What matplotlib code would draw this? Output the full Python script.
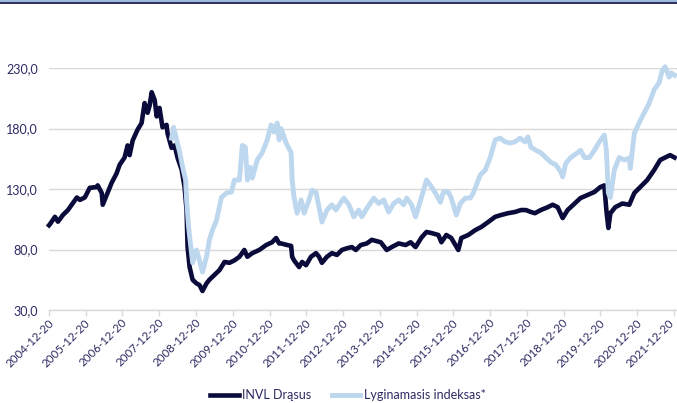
import pandas as pd
import matplotlib
matplotlib.use("Agg")
import matplotlib.pyplot as plt
from matplotlib.lines import Line2D
from matplotlib.transforms import ScaledTranslation

SERIES_NAMES = ["INVL Drąsus", "Lyginamasis indeksas*"]

DRASUS_DATES = [
    "2004-12-20", "2004-12-30", "2005-02-17", "2005-03-19", "2005-05-07", "2005-06-26",
    "2005-09-23", "2005-10-23", "2005-12-11", "2006-01-29", "2006-04-08", "2006-04-18",
    "2006-05-28", "2006-06-07", "2006-07-16", "2006-09-03", "2006-10-23", "2006-11-22",
    "2007-01-10", "2007-02-09", "2007-03-01", "2007-03-31", "2007-05-19", "2007-06-28",
    "2007-07-28", "2007-08-27", "2007-09-16", "2007-10-06", "2007-11-05", "2007-11-25",
    "2007-12-23", "2008-01-22", "2008-03-02", "2008-03-12", "2008-04-21", "2008-05-21",
    "2008-06-20", "2008-07-30", "2008-08-28", "2008-09-17", "2008-09-27", "2008-10-17",
    "2008-11-16", "2008-12-24", "2009-01-23", "2009-02-22", "2009-04-03", "2009-05-02",
    "2009-06-21", "2009-08-10", "2009-09-29", "2009-11-17", "2010-01-05", "2010-02-24",
    "2010-04-14", "2010-05-14", "2010-07-02", "2010-09-09", "2010-11-17", "2011-01-15",
    "2011-02-24", "2011-03-26", "2011-04-14", "2011-06-13", "2011-07-23", "2011-08-02",
    "2011-08-21", "2011-10-10", "2011-11-09", "2011-12-18", "2012-02-05", "2012-03-26",
    "2012-04-25", "2012-05-24", "2012-07-13", "2012-08-31", "2012-10-20", "2012-12-08",
    "2013-01-26", "2013-03-17", "2013-04-26", "2013-06-14", "2013-08-13", "2013-10-01",
    "2013-12-29", "2014-02-27", "2014-04-17", "2014-06-26", "2014-09-03", "2014-10-22",
    "2014-12-10", "2015-02-08", "2015-03-29", "2015-05-17", "2015-07-25", "2015-08-24",
    "2015-10-12", "2015-11-30", "2016-02-08", "2016-03-09", "2016-05-17", "2016-07-25",
    "2016-09-23", "2016-12-01", "2017-02-08", "2017-04-08", "2017-06-16", "2017-08-24",
    "2017-10-23", "2017-12-11", "2018-01-29", "2018-03-10", "2018-05-08", "2018-07-16",
    "2018-09-03", "2018-10-22", "2018-12-11", "2019-01-29", "2019-04-08", "2019-06-06",
    "2019-08-14", "2019-10-22", "2019-12-20", "2020-01-29", "2020-02-18", "2020-03-09",
    "2020-03-29", "2020-05-17", "2020-07-26", "2020-10-03", "2020-11-22", "2021-01-20",
    "2021-03-30", "2021-06-07", "2021-08-06", "2021-09-24", "2021-11-12", "2021-12-27",
]
DRASUS_VALUES = [
    100, 101, 107, 103, 108.5, 112.6,
    123, 121, 123, 131, 131.6, 133,
    126.7, 117, 125, 135, 143, 150,
    156, 166, 158, 170, 179, 184.5,
    201, 193, 199, 210, 203.5, 190,
    197, 181, 183, 176, 164, 166,
    155.6, 146, 131.6, 112.6, 82, 65.5,
    55, 52, 50.7, 45.7, 52, 55,
    59, 63, 69.7, 69, 71, 74,
    79.6, 74, 77, 79.6, 83.7, 86,
    89.5, 85, 85, 83.7, 83, 74,
    71, 65.5, 69.7, 67, 74, 77,
    74, 69, 74, 77, 75.5, 79.6,
    81, 82, 79.6, 83.7, 85, 88,
    86, 79.6, 82, 85, 83.7, 86,
    82, 90, 94.5, 93.6, 92, 86,
    92, 89.5, 79.6, 89.5, 92, 96,
    98.6, 102.7, 107, 108.5, 110, 111,
    112.6, 112.6, 111, 110, 112.6, 115,
    117, 115, 106, 112.6, 118, 122.5,
    125, 127.5, 131.6, 133, 112.6, 97.8,
    110, 115, 118, 117, 126.7, 131.6,
    137.4, 145.7, 154, 156, 158, 156,
]

INDEX_DATES = [
    "2008-04-21", "2008-05-11", "2008-06-10", "2008-07-10", "2008-08-09", "2008-09-07",
    "2008-09-17", "2008-10-07", "2008-11-06", "2008-11-16", "2008-12-24", "2009-01-23",
    "2009-02-22", "2009-04-03", "2009-05-02", "2009-06-01", "2009-07-11", "2009-08-29",
    "2009-10-18", "2009-12-06", "2010-01-05", "2010-02-24", "2010-03-25", "2010-04-24",
    "2010-05-14", "2010-06-13", "2010-07-02", "2010-08-20", "2010-10-08", "2010-11-27",
    "2011-01-05", "2011-02-04", "2011-03-06", "2011-03-26", "2011-04-14", "2011-06-03",
    "2011-07-23", "2011-08-02", "2011-08-21", "2011-09-20", "2011-10-30", "2011-11-29",
    "2012-01-17", "2012-02-16", "2012-03-26", "2012-04-25", "2012-05-24", "2012-07-13",
    "2012-08-31", "2012-10-10", "2012-11-28", "2012-12-28", "2013-02-16", "2013-04-06",
    "2013-05-25", "2013-06-24", "2013-08-13", "2013-10-21", "2013-12-09", "2014-01-28",
    "2014-03-18", "2014-05-07", "2014-06-26", "2014-08-14", "2014-09-13", "2014-11-01",
    "2014-12-10", "2015-01-09", "2015-02-28", "2015-03-29", "2015-05-07", "2015-06-26",
    "2015-08-14", "2015-09-13", "2015-11-01", "2015-11-30", "2016-01-19", "2016-02-28",
    "2016-04-18", "2016-06-06", "2016-07-06", "2016-09-13", "2016-11-02", "2016-12-21",
    "2017-02-08", "2017-03-29", "2017-05-18", "2017-07-06", "2017-08-24", "2017-10-13",
    "2017-12-01", "2017-12-31", "2018-01-29", "2018-03-20", "2018-05-08", "2018-06-27",
    "2018-08-16", "2018-10-04", "2018-11-23", "2018-12-11", "2019-01-10", "2019-02-28",
    "2019-05-08", "2019-06-06", "2019-07-16", "2019-09-03", "2019-10-22", "2019-12-10",
    "2020-01-29", "2020-02-18", "2020-03-09", "2020-03-29", "2020-05-07", "2020-06-25",
    "2020-08-14", "2020-10-03", "2020-10-13", "2020-11-22", "2021-01-10", "2021-02-28",
    "2021-04-19", "2021-06-07", "2021-07-27", "2021-08-26", "2021-09-24", "2021-11-03",
    "2021-11-22", "2021-12-27",
]
INDEX_VALUES = [
    172, 181, 170.5, 160.6, 148, 137.4,
    121, 98.6, 77, 69, 79.6, 71,
    61.4, 74, 88, 96, 104, 123,
    126.7, 127.5, 137.4, 137.4, 166, 164.7,
    137.4, 148, 139, 154, 160, 170.5,
    183, 177, 184.5, 170.5, 180, 168,
    160, 137.4, 123, 110, 121, 110,
    121, 129, 127.5, 115, 102.7, 112.6,
    117, 112.6, 119, 122.5, 117, 107,
    112.6, 107, 114, 122.5, 118, 121,
    111, 118, 121, 117, 122.5, 117,
    107, 115, 129, 137.4, 133, 126.7,
    119, 127.5, 127.5, 122.5, 108.5, 118,
    122.5, 122.5, 126.7, 141.6, 145.7, 156,
    170.5, 172, 169, 168, 169, 172,
    169, 173, 164.7, 162, 160, 156,
    152, 150, 144, 140, 151, 156,
    160, 162, 156, 156, 162, 169,
    174.6, 162, 126.7, 123, 145.7, 156,
    154, 155.6, 147, 176, 185, 193,
    201, 212, 218, 228, 231, 222.5,
    226, 224,
]

X_TICKS = [f"{year}-12-20" for year in range(2004, 2022)]
Y_TICKS = [30, 80, 130, 180, 230]
Y_TICK_LABELS = ["30,0", "80,0", "130,0", "180,0", "230,0"]

DARK = "#0b0b3b"
LIGHT = "#bdd7ee"
TEXT = "#2b2b63"
GRID = "#d9d9d9"


def plot():
    plt.rcParams["font.family"] = ["Lato", "DejaVu Sans"]
    fig = plt.figure(figsize=(6.77, 4.03), dpi=100)
    ax = fig.add_axes([49 / 677, 1 - 310 / 403, 1 - 49 / 677, (310 - 68) / 403])

    ax.plot(pd.to_datetime(DRASUS_DATES), DRASUS_VALUES, color=DARK, lw=3.3,
            solid_joinstyle="round", label=SERIES_NAMES[0], clip_on=False, zorder=3)
    ax.plot(pd.to_datetime(INDEX_DATES), INDEX_VALUES, color=LIGHT, lw=3.5,
            solid_joinstyle="round", label=SERIES_NAMES[1], clip_on=False, zorder=4)

    ax.set_ylim(30, 230)
    ax.set_xlim(pd.Timestamp("2004-12-20"), pd.Timestamp("2022-01-20"))
    ax.set_yticks(Y_TICKS)
    ax.set_yticklabels(Y_TICK_LABELS)
    tick_dates = pd.to_datetime(X_TICKS)
    ax.set_xticks(tick_dates)
    ax.set_xticklabels([])

    # rotated date labels placed under each tick
    base = ax.get_xaxis_transform()
    for i, (date, text) in enumerate(zip(tick_dates, X_TICKS)):
        dx = -6 if i == len(X_TICKS) - 1 else -1
        ax.text(date, 0, text, transform=base + ScaledTranslation(dx / 100, -7 / 100,
                                                                   fig.dpi_scale_trans),
                rotation=45, ha="right", va="top", rotation_mode="anchor",
                fontsize=8.3, color=TEXT, clip_on=False)

    ax.grid(axis="y", color=GRID, lw=1.0)
    ax.set_axisbelow(True)
    for side in ["left", "right", "top"]:
        ax.spines[side].set_visible(False)
    ax.spines["bottom"].set_color(GRID)
    ax.spines["bottom"].set_linewidth(1.0)
    ax.tick_params(axis="y", length=0, pad=8, labelsize=9, labelcolor=TEXT)
    ax.tick_params(axis="x", length=4, color=GRID, width=1.0)

    fig.legend(loc="center", bbox_to_anchor=(348 / 677, 1 - 395 / 403), ncol=2,
               frameon=False, fontsize=9, handlelength=2.3, columnspacing=1.6,
               handletextpad=0.3, labelcolor=TEXT)

    # header lines across the top
    fig.add_artist(Line2D([0, 1], [1 - 1 / 403, 1 - 1 / 403], color="#9db9e0", lw=1.6))
    fig.add_artist(Line2D([0, 1], [1 - 3.3 / 403, 1 - 3.3 / 403], color=DARK, lw=1.2))

    fig.savefig("out.png", dpi=100)


def main():
    plot()


if __name__ == "__main__":
    main()
